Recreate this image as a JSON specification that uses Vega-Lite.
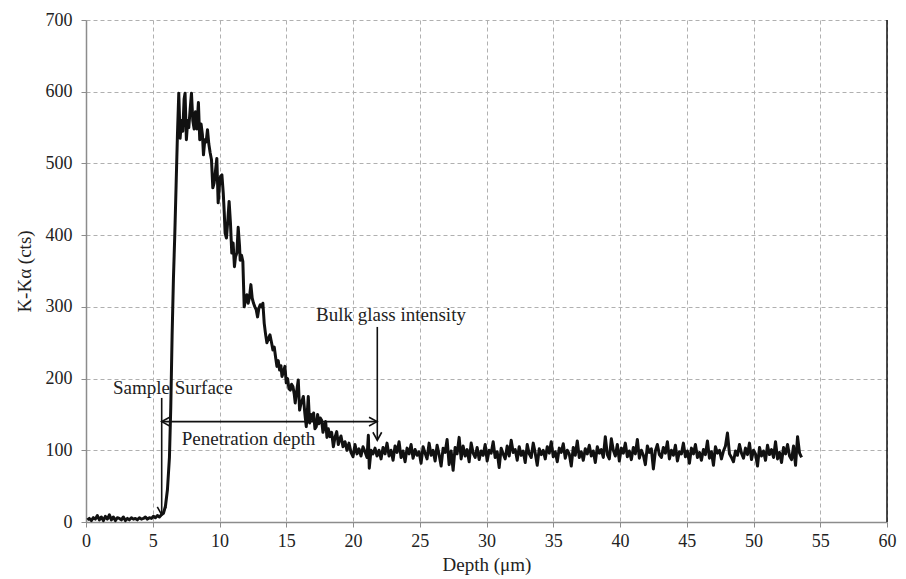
{
  "$schema": "https://vega.github.io/schema/vega-lite/v6.json",
  "width": 801,
  "height": 502,
  "autosize": {"type": "none"},
  "padding": {"left": 86, "top": 20, "right": 19, "bottom": 57},
  "background": "white",
  "config": {
    "view": {"stroke": null},
    "font": "Liberation Serif",
    "axis": {
      "labelFont": "Liberation Serif",
      "titleFont": "Liberation Serif",
      "labelFontSize": 18,
      "titleFontSize": 19,
      "titleFontWeight": "normal",
      "labelColor": "#222",
      "titleColor": "#222",
      "grid": true,
      "gridColor": "#b0b0b0",
      "gridDash": [4, 3],
      "gridWidth": 1,
      "domainColor": "#8c8c8c",
      "domainWidth": 1.5,
      "tickColor": "#8c8c8c",
      "tickSize": 5
    }
  },
  "datasets": {
    "profile": [
      {"d": 0.1, "c": 3}, {"d": 0.25, "c": 5}, {"d": 0.4, "c": 2}, {"d": 0.55, "c": 6}, {"d": 0.7, "c": 4},
      {"d": 0.85, "c": 9}, {"d": 1.0, "c": 3}, {"d": 1.15, "c": 7}, {"d": 1.3, "c": 2}, {"d": 1.45, "c": 8},
      {"d": 1.6, "c": 4}, {"d": 1.75, "c": 10}, {"d": 1.9, "c": 3}, {"d": 2.05, "c": 7}, {"d": 2.2, "c": 2},
      {"d": 2.35, "c": 6}, {"d": 2.5, "c": 5}, {"d": 2.65, "c": 3}, {"d": 2.8, "c": 7}, {"d": 2.95, "c": 2},
      {"d": 3.1, "c": 5}, {"d": 3.25, "c": 3}, {"d": 3.4, "c": 6}, {"d": 3.55, "c": 4}, {"d": 3.7, "c": 5},
      {"d": 3.85, "c": 3}, {"d": 4.0, "c": 6}, {"d": 4.15, "c": 4}, {"d": 4.3, "c": 5}, {"d": 4.45, "c": 7},
      {"d": 4.6, "c": 4}, {"d": 4.75, "c": 6}, {"d": 4.9, "c": 5}, {"d": 5.05, "c": 8}, {"d": 5.2, "c": 6},
      {"d": 5.35, "c": 9}, {"d": 5.5, "c": 7}, {"d": 5.65, "c": 10}, {"d": 5.8, "c": 12}, {"d": 5.95, "c": 22},
      {"d": 6.1, "c": 45}, {"d": 6.25, "c": 90}, {"d": 6.35, "c": 160}, {"d": 6.45, "c": 260}, {"d": 6.55, "c": 340},
      {"d": 6.65, "c": 400}, {"d": 6.75, "c": 470}, {"d": 6.85, "c": 540}, {"d": 6.95, "c": 598}, {"d": 7.05, "c": 535},
      {"d": 7.15, "c": 560}, {"d": 7.25, "c": 545}, {"d": 7.35, "c": 590}, {"d": 7.42, "c": 598}, {"d": 7.52, "c": 533},
      {"d": 7.62, "c": 560}, {"d": 7.7, "c": 550}, {"d": 7.8, "c": 575}, {"d": 7.9, "c": 598}, {"d": 8.0, "c": 560},
      {"d": 8.1, "c": 548}, {"d": 8.2, "c": 572}, {"d": 8.3, "c": 548}, {"d": 8.42, "c": 585}, {"d": 8.52, "c": 533},
      {"d": 8.62, "c": 555}, {"d": 8.72, "c": 540}, {"d": 8.8, "c": 512}, {"d": 8.9, "c": 533}, {"d": 9.0, "c": 530},
      {"d": 9.1, "c": 547}, {"d": 9.2, "c": 527}, {"d": 9.3, "c": 515}, {"d": 9.4, "c": 505}, {"d": 9.5, "c": 466},
      {"d": 9.6, "c": 473}, {"d": 9.7, "c": 490}, {"d": 9.8, "c": 507}, {"d": 9.9, "c": 445}, {"d": 10.0, "c": 470},
      {"d": 10.08, "c": 482}, {"d": 10.18, "c": 484}, {"d": 10.28, "c": 459}, {"d": 10.36, "c": 430}, {"d": 10.42, "c": 403},
      {"d": 10.52, "c": 396}, {"d": 10.62, "c": 420}, {"d": 10.72, "c": 447}, {"d": 10.82, "c": 417}, {"d": 10.92, "c": 375},
      {"d": 11.02, "c": 389}, {"d": 11.12, "c": 356}, {"d": 11.2, "c": 370}, {"d": 11.3, "c": 375}, {"d": 11.4, "c": 411},
      {"d": 11.5, "c": 385}, {"d": 11.55, "c": 365}, {"d": 11.65, "c": 372}, {"d": 11.75, "c": 363}, {"d": 11.85, "c": 300},
      {"d": 11.95, "c": 310}, {"d": 12.05, "c": 317}, {"d": 12.15, "c": 305}, {"d": 12.25, "c": 314}, {"d": 12.35, "c": 331},
      {"d": 12.45, "c": 312}, {"d": 12.55, "c": 305}, {"d": 12.65, "c": 300}, {"d": 12.75, "c": 296}, {"d": 12.85, "c": 286},
      {"d": 12.95, "c": 298}, {"d": 13.05, "c": 303}, {"d": 13.15, "c": 300}, {"d": 13.25, "c": 305}, {"d": 13.35, "c": 277},
      {"d": 13.45, "c": 262}, {"d": 13.55, "c": 250}, {"d": 13.65, "c": 255}, {"d": 13.78, "c": 261}, {"d": 13.9, "c": 250},
      {"d": 14.0, "c": 240}, {"d": 14.1, "c": 244}, {"d": 14.2, "c": 230}, {"d": 14.3, "c": 217}, {"d": 14.4, "c": 225},
      {"d": 14.5, "c": 212}, {"d": 14.6, "c": 218}, {"d": 14.68, "c": 203}, {"d": 14.8, "c": 210}, {"d": 14.9, "c": 217},
      {"d": 15.0, "c": 194}, {"d": 15.1, "c": 200}, {"d": 15.2, "c": 186}, {"d": 15.3, "c": 184}, {"d": 15.4, "c": 192},
      {"d": 15.5, "c": 189}, {"d": 15.6, "c": 178}, {"d": 15.67, "c": 166}, {"d": 15.8, "c": 185}, {"d": 15.9, "c": 198},
      {"d": 16.0, "c": 156}, {"d": 16.1, "c": 165}, {"d": 16.2, "c": 170}, {"d": 16.28, "c": 175}, {"d": 16.4, "c": 150},
      {"d": 16.5, "c": 133}, {"d": 16.6, "c": 160}, {"d": 16.65, "c": 175}, {"d": 16.75, "c": 138}, {"d": 16.85, "c": 150},
      {"d": 16.95, "c": 143}, {"d": 17.05, "c": 152}, {"d": 17.15, "c": 130}, {"d": 17.25, "c": 133}, {"d": 17.35, "c": 150},
      {"d": 17.45, "c": 137}, {"d": 17.55, "c": 145}, {"d": 17.65, "c": 142}, {"d": 17.75, "c": 125}, {"d": 17.85, "c": 135},
      {"d": 17.95, "c": 140}, {"d": 18.05, "c": 118}, {"d": 18.15, "c": 130}, {"d": 18.28, "c": 119}, {"d": 18.4, "c": 125},
      {"d": 18.53, "c": 105}, {"d": 18.65, "c": 118}, {"d": 18.78, "c": 126}, {"d": 18.9, "c": 108}, {"d": 19.0, "c": 115},
      {"d": 19.1, "c": 120}, {"d": 19.25, "c": 105}, {"d": 19.4, "c": 112}, {"d": 19.55, "c": 100}, {"d": 19.7, "c": 110},
      {"d": 19.85, "c": 97}, {"d": 20.0, "c": 91}, {"d": 20.15, "c": 108}, {"d": 20.3, "c": 95}, {"d": 20.45, "c": 102},
      {"d": 20.6, "c": 92}, {"d": 20.75, "c": 105}, {"d": 20.9, "c": 98}, {"d": 21.05, "c": 90}, {"d": 21.15, "c": 121},
      {"d": 21.22, "c": 75}, {"d": 21.35, "c": 100}, {"d": 21.5, "c": 95}, {"d": 21.65, "c": 103}, {"d": 21.8, "c": 92},
      {"d": 21.95, "c": 100},
      {"d": 22.1, "c": 88}, {"d": 22.25, "c": 104}, {"d": 22.4, "c": 95}, {"d": 22.55, "c": 110}, {"d": 22.7, "c": 92},
      {"d": 22.85, "c": 100}, {"d": 23.0, "c": 86}, {"d": 23.15, "c": 106}, {"d": 23.3, "c": 97}, {"d": 23.45, "c": 112},
      {"d": 23.6, "c": 90}, {"d": 23.75, "c": 99}, {"d": 23.9, "c": 84}, {"d": 24.05, "c": 103}, {"d": 24.2, "c": 95},
      {"d": 24.35, "c": 108}, {"d": 24.5, "c": 89}, {"d": 24.65, "c": 101}, {"d": 24.8, "c": 93}, {"d": 24.95, "c": 98},
      {"d": 25.1, "c": 82}, {"d": 25.25, "c": 105}, {"d": 25.4, "c": 96}, {"d": 25.55, "c": 88}, {"d": 25.7, "c": 110},
      {"d": 25.85, "c": 93}, {"d": 26.0, "c": 100}, {"d": 26.15, "c": 85}, {"d": 26.3, "c": 107}, {"d": 26.45, "c": 94},
      {"d": 26.6, "c": 78}, {"d": 26.75, "c": 103}, {"d": 26.9, "c": 97}, {"d": 27.05, "c": 115}, {"d": 27.2, "c": 80},
      {"d": 27.35, "c": 99}, {"d": 27.5, "c": 72}, {"d": 27.65, "c": 104}, {"d": 27.8, "c": 95}, {"d": 27.95, "c": 118},
      {"d": 28.1, "c": 88}, {"d": 28.25, "c": 106}, {"d": 28.4, "c": 92}, {"d": 28.55, "c": 101}, {"d": 28.7, "c": 84},
      {"d": 28.85, "c": 110}, {"d": 29.0, "c": 96}, {"d": 29.15, "c": 90}, {"d": 29.3, "c": 104}, {"d": 29.45, "c": 87},
      {"d": 29.6, "c": 99}, {"d": 29.75, "c": 93}, {"d": 29.9, "c": 108}, {"d": 30.05, "c": 85}, {"d": 30.2, "c": 100},
      {"d": 30.35, "c": 96}, {"d": 30.5, "c": 112}, {"d": 30.65, "c": 90}, {"d": 30.8, "c": 98}, {"d": 30.95, "c": 76},
      {"d": 31.1, "c": 103}, {"d": 31.25, "c": 95}, {"d": 31.4, "c": 88}, {"d": 31.55, "c": 106}, {"d": 31.7, "c": 92},
      {"d": 31.85, "c": 114}, {"d": 32.0, "c": 97}, {"d": 32.15, "c": 101}, {"d": 32.3, "c": 86}, {"d": 32.45, "c": 105},
      {"d": 32.6, "c": 93}, {"d": 32.75, "c": 99}, {"d": 32.9, "c": 83}, {"d": 33.05, "c": 108}, {"d": 33.2, "c": 95},
      {"d": 33.35, "c": 90}, {"d": 33.5, "c": 110}, {"d": 33.65, "c": 96}, {"d": 33.8, "c": 79}, {"d": 33.95, "c": 102},
      {"d": 34.1, "c": 94}, {"d": 34.25, "c": 100}, {"d": 34.4, "c": 88}, {"d": 34.55, "c": 105}, {"d": 34.7, "c": 96},
      {"d": 34.85, "c": 112}, {"d": 35.0, "c": 91}, {"d": 35.15, "c": 98}, {"d": 35.3, "c": 84}, {"d": 35.45, "c": 103},
      {"d": 35.6, "c": 97}, {"d": 35.75, "c": 109}, {"d": 35.9, "c": 89}, {"d": 36.05, "c": 100}, {"d": 36.2, "c": 95},
      {"d": 36.35, "c": 78}, {"d": 36.5, "c": 104}, {"d": 36.65, "c": 93}, {"d": 36.8, "c": 113}, {"d": 36.95, "c": 90},
      {"d": 37.1, "c": 98}, {"d": 37.25, "c": 86}, {"d": 37.4, "c": 102}, {"d": 37.55, "c": 95}, {"d": 37.7, "c": 107},
      {"d": 37.85, "c": 92}, {"d": 38.0, "c": 99}, {"d": 38.15, "c": 83}, {"d": 38.3, "c": 105}, {"d": 38.45, "c": 96},
      {"d": 38.6, "c": 101}, {"d": 38.75, "c": 90}, {"d": 38.9, "c": 119}, {"d": 39.05, "c": 94}, {"d": 39.2, "c": 88},
      {"d": 39.35, "c": 116}, {"d": 39.5, "c": 100}, {"d": 39.65, "c": 92}, {"d": 39.8, "c": 108}, {"d": 39.95, "c": 85},
      {"d": 40.1, "c": 103}, {"d": 40.25, "c": 96}, {"d": 40.4, "c": 110}, {"d": 40.55, "c": 91}, {"d": 40.7, "c": 99},
      {"d": 40.85, "c": 87}, {"d": 41.0, "c": 104}, {"d": 41.15, "c": 95}, {"d": 41.3, "c": 115}, {"d": 41.45, "c": 89},
      {"d": 41.6, "c": 100}, {"d": 41.75, "c": 93}, {"d": 41.9, "c": 80}, {"d": 42.05, "c": 106}, {"d": 42.2, "c": 97},
      {"d": 42.35, "c": 102}, {"d": 42.5, "c": 74}, {"d": 42.65, "c": 99}, {"d": 42.8, "c": 108}, {"d": 42.95, "c": 94},
      {"d": 43.1, "c": 90}, {"d": 43.25, "c": 104}, {"d": 43.4, "c": 96}, {"d": 43.55, "c": 112}, {"d": 43.7, "c": 88},
      {"d": 43.85, "c": 100}, {"d": 44.0, "c": 93}, {"d": 44.15, "c": 107}, {"d": 44.3, "c": 85}, {"d": 44.45, "c": 98},
      {"d": 44.6, "c": 95}, {"d": 44.75, "c": 110}, {"d": 44.9, "c": 91}, {"d": 45.05, "c": 99}, {"d": 45.2, "c": 82},
      {"d": 45.35, "c": 103}, {"d": 45.5, "c": 95}, {"d": 45.65, "c": 108}, {"d": 45.8, "c": 90}, {"d": 45.95, "c": 97},
      {"d": 46.1, "c": 86}, {"d": 46.25, "c": 101}, {"d": 46.4, "c": 94}, {"d": 46.55, "c": 113}, {"d": 46.7, "c": 89},
      {"d": 46.85, "c": 98}, {"d": 47.0, "c": 79}, {"d": 47.15, "c": 105}, {"d": 47.3, "c": 96}, {"d": 47.45, "c": 100},
      {"d": 47.6, "c": 88}, {"d": 47.75, "c": 99}, {"d": 47.9, "c": 106}, {"d": 48.05, "c": 124}, {"d": 48.2, "c": 95},
      {"d": 48.35, "c": 90}, {"d": 48.5, "c": 84}, {"d": 48.65, "c": 99}, {"d": 48.8, "c": 93}, {"d": 48.95, "c": 108},
      {"d": 49.1, "c": 96}, {"d": 49.25, "c": 89}, {"d": 49.4, "c": 103}, {"d": 49.55, "c": 94}, {"d": 49.7, "c": 110},
      {"d": 49.85, "c": 87}, {"d": 50.0, "c": 100}, {"d": 50.15, "c": 95}, {"d": 50.3, "c": 78}, {"d": 50.45, "c": 104},
      {"d": 50.6, "c": 92}, {"d": 50.75, "c": 99}, {"d": 50.9, "c": 86}, {"d": 51.05, "c": 107}, {"d": 51.2, "c": 94},
      {"d": 51.35, "c": 101}, {"d": 51.5, "c": 90}, {"d": 51.65, "c": 112}, {"d": 51.8, "c": 88}, {"d": 51.95, "c": 97},
      {"d": 52.1, "c": 83}, {"d": 52.25, "c": 104}, {"d": 52.4, "c": 95}, {"d": 52.55, "c": 108}, {"d": 52.7, "c": 92},
      {"d": 52.85, "c": 87}, {"d": 53.0, "c": 106}, {"d": 53.15, "c": 79}, {"d": 53.3, "c": 119}, {"d": 53.45, "c": 96},
      {"d": 53.6, "c": 90}
    ],
    "one": [{}]
  },
  "layer": [
    {
      "data": {"name": "profile"},
      "mark": {"type": "line", "color": "#111", "strokeWidth": 3, "strokeJoin": "round"},
      "encoding": {
        "x": {
          "field": "d",
          "type": "quantitative",
          "scale": {"domain": [0, 60], "nice": false, "zero": false},
          "axis": {
            "title": "Depth (μm)",
            "grid": true,
            "values": [0, 5, 10, 15, 20, 25, 30, 35, 40, 45, 50, 55, 60],
            "labelPadding": 5,
            "titlePadding": 5,
            "labelFlush": false
          }
        },
        "y": {
          "field": "c",
          "type": "quantitative",
          "scale": {"domain": [0, 700], "nice": false},
          "axis": {
            "title": "K-Kα (cts)",
            "grid": true,
            "values": [0, 100, 200, 300, 400, 500, 600, 700],
            "labelPadding": 9,
            "titlePadding": 11
          }
        }
      }
    },
    {
      "data": {"name": "one"},
      "mark": {"type": "rule", "color": "#111", "strokeWidth": 1.5},
      "encoding": {"x": {"datum": 60, "type": "quantitative"}}
    },
    {
      "data": {"name": "one"},
      "mark": {"type": "rule", "color": "#111", "strokeWidth": 1.6},
      "encoding": {
        "x": {"datum": 5.67, "type": "quantitative"},
        "y": {"datum": 173, "type": "quantitative"},
        "y2": {"datum": 10}
      }
    },
    {
      "data": {"name": "one"},
      "mark": {"type": "rule", "color": "#111", "strokeWidth": 1.6},
      "encoding": {
        "x": {"datum": 5.67, "type": "quantitative"},
        "x2": {"datum": 21.8},
        "y": {"datum": 140, "type": "quantitative"}
      }
    },
    {
      "data": {"name": "one"},
      "mark": {"type": "rule", "color": "#111", "strokeWidth": 1.6},
      "encoding": {
        "x": {"datum": 21.82, "type": "quantitative"},
        "y": {"datum": 272, "type": "quantitative"},
        "y2": {"datum": 114}
      }
    },
    {
      "data": {"name": "one"},
      "mark": {"type": "point", "shape": "M-1,-0.55L0,0L-1,0.55", "size": 256, "filled": false, "stroke": "#111", "strokeWidth": 1.6, "opacity": 1, "angle": 90},
      "encoding": {
        "x": {"datum": 5.67, "type": "quantitative"},
        "y": {"datum": 10, "type": "quantitative"}
      }
    },
    {
      "data": {"name": "one"},
      "mark": {"type": "point", "shape": "M-1,-0.55L0,0L-1,0.55", "size": 256, "filled": false, "stroke": "#111", "strokeWidth": 1.6, "opacity": 1, "angle": 90},
      "encoding": {
        "x": {"datum": 21.82, "type": "quantitative"},
        "y": {"datum": 114, "type": "quantitative"}
      }
    },
    {
      "data": {"name": "one"},
      "mark": {"type": "point", "shape": "M-1,-0.55L0,0L-1,0.55", "size": 256, "filled": false, "stroke": "#111", "strokeWidth": 1.6, "opacity": 1, "angle": 180},
      "encoding": {
        "x": {"datum": 5.67, "type": "quantitative"},
        "y": {"datum": 140, "type": "quantitative"}
      }
    },
    {
      "data": {"name": "one"},
      "mark": {"type": "point", "shape": "M-1,-0.55L0,0L-1,0.55", "size": 256, "filled": false, "stroke": "#111", "strokeWidth": 1.6, "opacity": 1, "angle": 0},
      "encoding": {
        "x": {"datum": 21.8, "type": "quantitative"},
        "y": {"datum": 140, "type": "quantitative"}
      }
    },
    {
      "data": {"name": "one"},
      "mark": {"type": "text", "text": "Sample Surface", "align": "left", "baseline": "middle", "font": "Liberation Serif", "fontSize": 19, "fill": "#222"},
      "encoding": {
        "x": {"datum": 2.02, "type": "quantitative"},
        "y": {"datum": 187, "type": "quantitative"}
      }
    },
    {
      "data": {"name": "one"},
      "mark": {"type": "text", "text": "Penetration depth", "align": "left", "baseline": "middle", "font": "Liberation Serif", "fontSize": 19, "fill": "#222"},
      "encoding": {
        "x": {"datum": 7.17, "type": "quantitative"},
        "y": {"datum": 116, "type": "quantitative"}
      }
    },
    {
      "data": {"name": "one"},
      "mark": {"type": "text", "text": "Bulk glass intensity", "align": "left", "baseline": "middle", "font": "Liberation Serif", "fontSize": 19, "fill": "#222"},
      "encoding": {
        "x": {"datum": 17.23, "type": "quantitative"},
        "y": {"datum": 289, "type": "quantitative"}
      }
    }
  ]
}
